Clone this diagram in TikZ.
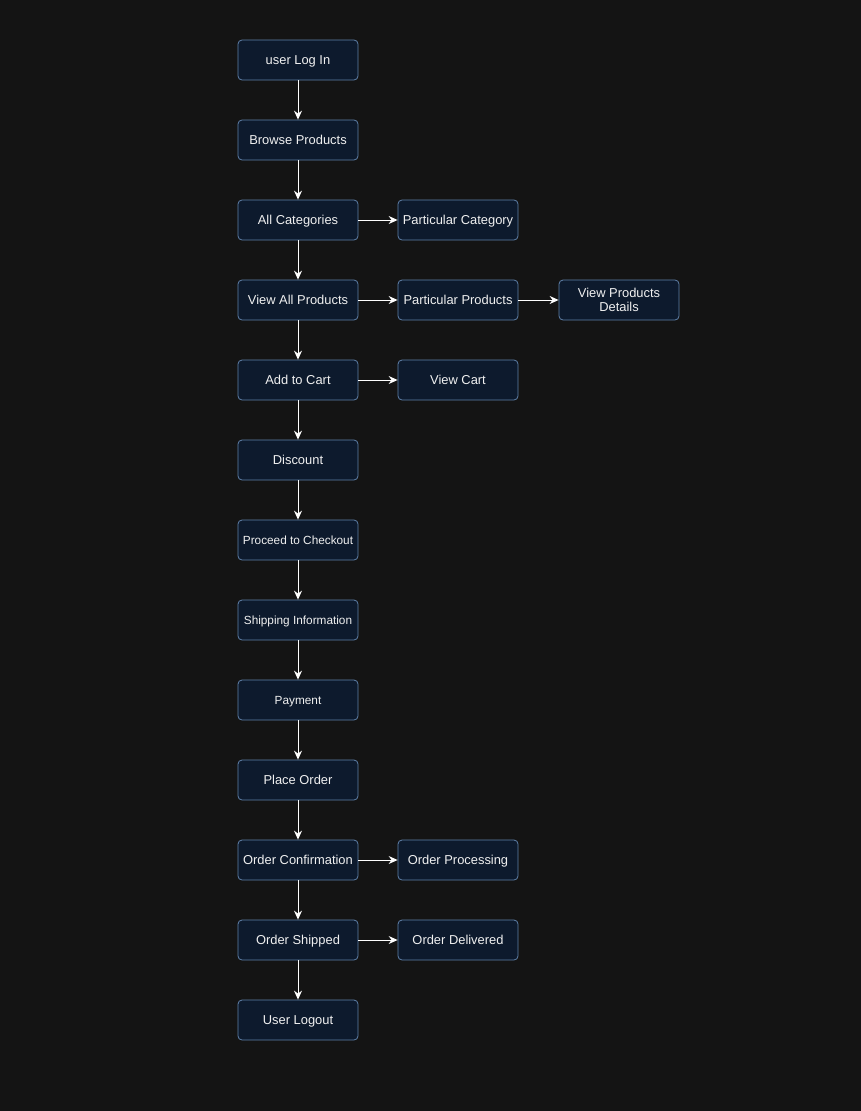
\documentclass[tikz,border=0pt]{standalone}
\usepackage{fontspec}
\setmainfont{Liberation Sans}
\usetikzlibrary{arrows.meta}
\definecolor{bg}{HTML}{141414}
\definecolor{nodefill}{HTML}{0D1A2D}
\definecolor{nodeborder}{HTML}{5F80A8}
\definecolor{txt}{HTML}{F0F0F0}
\tikzset{
  box/.style={draw=nodeborder, fill=nodefill, rounded corners=4pt, line width=0.8pt,
    minimum width=120pt, minimum height=40pt, inner sep=1pt, text=txt, align=center,
    font=\fontsize{12.9}{14.5}\selectfont, text height=9.6pt, text depth=0.4pt},
  small/.style={font=\fontsize{11.8}{13.5}\selectfont, text height=8.9pt, text depth=0.4pt},
  twoline/.style={text height={}, text depth={}},
  arr/.style={draw=white, line width=1pt, -{Stealth[length=9pt,width=8pt,inset=3pt]}}
}
\begin{document}
\begin{tikzpicture}[x=1pt,y=-1pt]
\fill[bg] (0,0) rectangle (861,1111);
\useasboundingbox (0,0) rectangle (861,1111);
\node[box] (login) at (298,60) {user Log In};
\node[box] (browse) at (298,140) {Browse Products};
\node[box] (allcat) at (298,220) {All Categories};
\node[box] (viewall) at (298,300) {View All Products};
\node[box] (cart) at (298,380) {Add to Cart};
\node[box] (disc) at (298,460) {Discount};
\node[box,small] (checkout) at (298,540) {Proceed to Checkout};
\node[box,small] (ship) at (298,620) {Shipping Information};
\node[box,small] (pay) at (298,700) {Payment};
\node[box] (place) at (298,780) {Place Order};
\node[box] (confirm) at (298,860) {Order Confirmation};
\node[box] (shipped) at (298,940) {Order Shipped};
\node[box] (logout) at (298,1020) {User Logout};
\node[box] (pcat) at (458,220) {Particular Category};
\node[box] (pprod) at (458,300) {Particular Products};
\node[box,twoline] (details) at (619,300) {View Products\\Details};
\node[box] (vcart) at (458,380) {View Cart};
\node[box] (proc) at (458,860) {Order Processing};
\node[box] (deliv) at (458,940) {Order Delivered};
\draw[arr] (login) -- (browse);
\draw[arr] (browse) -- (allcat);
\draw[arr] (allcat) -- (viewall);
\draw[arr] (viewall) -- (cart);
\draw[arr] (cart) -- (disc);
\draw[arr] (disc) -- (checkout);
\draw[arr] (checkout) -- (ship);
\draw[arr] (ship) -- (pay);
\draw[arr] (pay) -- (place);
\draw[arr] (place) -- (confirm);
\draw[arr] (confirm) -- (shipped);
\draw[arr] (shipped) -- (logout);
\draw[arr] (allcat) -- (pcat);
\draw[arr] (viewall) -- (pprod);
\draw[arr] (pprod) -- (details);
\draw[arr] (cart) -- (vcart);
\draw[arr] (confirm) -- (proc);
\draw[arr] (shipped) -- (deliv);
\end{tikzpicture}
\end{document}
